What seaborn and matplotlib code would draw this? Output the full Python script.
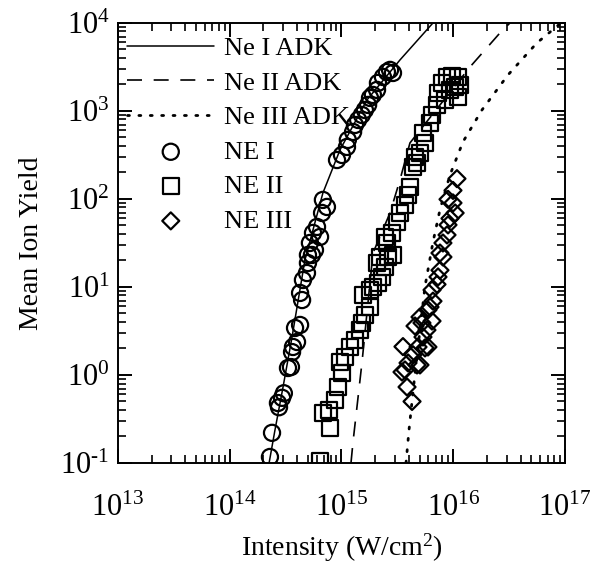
import matplotlib
matplotlib.use("Agg")
import matplotlib.pyplot as plt
import matplotlib.ticker as mticker
import seaborn as sns

# ---- ADK theory curves ----
adk1_x = [2.25e14, 2.54e14, 3.0e14, 3.61e14, 4.71e14, 6.82e14, 9.7e14, 1.69e15, 3.34e15, 6.59e15]
adk1_y = [0.1, 0.237, 0.731, 2.70, 20.3, 117, 361, 1333, 3800, 1.0e4]

adk2_x = [1.216e15, 1.268e15, 1.524e15, 1.914e15, 2.717e15, 3.334e15, 4.10e15, 1.413e16, 2.62e16, 3.22e16]
adk2_y = [0.1, 0.173, 1.37, 24.3, 69.3, 164, 433, 3160, 7700, 1.0e4]

adk3_x = [3.78e15, 4.02e15, 4.55e15, 5.58e15, 6.59e15, 7.60e15, 9.35e15, 1.222e16, 1.807e16, 3.09e16, 5.61e16, 9.0e16]
adk3_y = [0.1, 0.237, 1.05, 10.0, 32.4, 75.0, 187, 445, 1025, 2564, 5930, 9750]

ne1_x = [2.29e14, 2.39e14, 2.76e14, 2.94e14, 3.05e14, 2.70e14, 3.32e14, 3.53e14, 3.61e14, 3.68e14,
         4.0e14, 3.84e14, 4.26e14, 4.44e14, 4.26e14, 4.52e14, 4.91e14, 5.01e14, 5.44e14, 5.01e14,
         5.79e14, 5.22e14, 5.56e14, 6.43e14, 6.04e14, 6.70e14, 7.41e14, 6.82e14, 9.12e14, 1.01e15,
         1.12e15, 1.14e15, 1.27e15, 1.32e15, 1.41e15, 1.52e15, 1.62e15, 1.73e15, 1.80e15, 1.91e15,
         2.08e15, 2.12e15, 2.35e15, 2.55e15, 2.72e15, 2.89e15]
ne1_y = [0.117, 0.22, 0.43, 0.55, 0.62, 0.48, 1.2, 1.23, 1.82, 2.08,
         2.37, 3.42, 3.70, 7.1, 8.55, 12.0, 14.4, 18.7, 23.1, 23.1,
         26.3, 31.6, 41.1, 37.0, 48.1, 69.3, 81.1, 97.5, 277, 316,
         390, 468, 577, 693, 790, 901, 1025, 1170, 1406, 1520,
         1734, 2080, 2430, 2770, 2925, 2700]

ne2_x = [6.42e14, 6.83e14, 7.73e14, 7.89e14, 8.75e14, 9.31e14, 1.01e15, 9.70e14, 1.075e15, 1.19e15,
         1.32e15, 1.47e15, 1.53e15, 1.62e15, 1.80e15, 1.56e15, 1.80e15, 1.91e15, 2.12e15, 2.30e15,
         2.08e15, 2.45e15, 2.61e15, 2.89e15, 2.21e15, 2.55e15, 2.45e15, 2.83e15, 3.14e15, 3.34e15,
         3.70e15, 3.94e15, 4.10e15, 4.36e15, 4.55e15, 4.74e15, 5.04e15, 5.59e15, 5.36e15, 6.20e15,
         6.46e15, 7.16e15, 7.31e15, 7.93e15, 8.80e15, 9.75e15, 1.10e16, 1.04e16, 1.10e16, 8.44e15,
         9.35e15, 1.15e16]
ne2_y = [0.105, 0.37, 0.40, 0.25, 0.52, 0.73, 1.05, 1.41, 1.60, 2.08,
         2.50, 3.24, 3.90, 4.81, 5.92, 8.11, 9.24, 10.0, 11.1, 13.0,
         18.7, 16.9, 21.9, 23.1, 21.9, 31.6, 37.0, 41.1, 54.8, 69.3,
         85.5, 111, 137, 231, 300, 257, 333, 433, 562, 731,
         901, 1170, 1600, 2080, 2430, 2500, 2430, 1874, 1443, 1333,
         1734, 1975]

ne3_x = [4.28e15, 3.86e15, 3.70e15, 3.48e15, 3.94e15, 4.74e15, 5.04e15, 3.55e15, 4.36e15, 4.84e15,
         5.59e15, 5.94e15, 4.55e15, 5.25e15, 5.82e15, 6.46e15, 5.36e15, 5.04e15, 5.94e15, 6.20e15,
         6.59e15, 6.46e15, 7.16e15, 7.31e15, 7.61e15, 8.09e15, 7.61e15, 8.09e15, 8.80e15, 8.98e15,
         9.35e15, 9.95e15, 8.98e15, 1.04e16, 9.95e15, 1.08e16]
ne3_y = [0.50, 0.73, 1.14, 1.08, 1.37, 1.30, 1.30, 2.10, 1.70, 2.08,
         2.03, 2.08, 3.60, 3.90, 3.24, 4.10, 2.70, 4.56, 5.48, 5.92,
         6.90, 9.24, 10.7, 13.0, 15.5, 21.9, 24.3, 31.6, 39.0, 50.7,
         60.0, 90.1, 99.0, 69.3, 125, 170]

x_ticks = [1e13, 1e14, 1e15, 1e16, 1e17]
x_tick_labels = ["13", "14", "15", "16", "17"]
y_ticks = [1e-1, 1e0, 1e1, 1e2, 1e3, 1e4]
y_tick_labels = ["-1", "0", "1", "2", "3", "4"]

sns.set_theme(style="ticks")
plt.rcParams["font.family"] = ["Liberation Serif", "DejaVu Serif"]
plt.rcParams["mathtext.fontset"] = "custom"
plt.rcParams["mathtext.rm"] = "Liberation Serif"
plt.rcParams["mathtext.it"] = "Liberation Serif:italic"
plt.rcParams["mathtext.bf"] = "Liberation Serif:bold"
plt.rcParams["axes.unicode_minus"] = False
for key in ["text.color", "axes.labelcolor", "xtick.color", "ytick.color",
            "xtick.labelcolor", "ytick.labelcolor", "axes.edgecolor"]:
    plt.rcParams[key] = "black"

fig = plt.figure(figsize=(6.02, 5.73), dpi=100)
ax = fig.add_axes([0.196, 0.192, 0.7425, 0.768])
ax.set_xscale("log")
ax.set_yscale("log")

sns.lineplot(x=adk1_x, y=adk1_y, ax=ax, color="black", lw=1.1, linestyle="-", label="Ne I ADK")
sns.lineplot(x=adk2_x, y=adk2_y, ax=ax, color="black", lw=1.2, linestyle=(0, (9, 7)), label="Ne II ADK")
sns.lineplot(x=adk3_x, y=adk3_y, ax=ax, color="black", lw=2.0, linestyle=(0, (0.7, 3.4)),
             label="Ne III ADK")
ax.lines[-1].set_dash_capstyle("round")

sns.scatterplot(x=ne1_x, y=ne1_y, ax=ax, marker="o", s=135, facecolors="none",
                edgecolors="black", linewidths=1.6, label="NE I", zorder=3)
sns.scatterplot(x=ne2_x, y=ne2_y, ax=ax, marker="s", s=130, facecolors="none",
                edgecolors="black", linewidths=1.6, label="NE II", zorder=3)
sns.scatterplot(x=ne3_x, y=ne3_y, ax=ax, marker="D", s=75, facecolors="none",
                edgecolors="black", linewidths=1.6, label="NE III", zorder=3)

ax.set_xlim(1e13, 1e17)
ax.set_ylim(1e-1, 1e4)
ax.set_xticks(x_ticks)
ax.set_xticklabels([r"$10^{\text{%s}}$" % e for e in x_tick_labels])
ax.set_yticks(y_ticks)
ax.set_yticklabels([r"$10^{\text{%s}}$" % e for e in y_tick_labels])
ax.xaxis.set_minor_locator(mticker.LogLocator(base=10, subs=range(2, 10), numticks=20))
ax.yaxis.set_minor_locator(mticker.LogLocator(base=10, subs=range(2, 10), numticks=20))
ax.xaxis.set_minor_formatter(mticker.NullFormatter())
ax.yaxis.set_minor_formatter(mticker.NullFormatter())
ax.tick_params(which="both", direction="in", top=True, right=True, color="black",
               labelcolor="black")
ax.tick_params(which="major", length=10, width=1.4, labelsize=22)
ax.tick_params(which="minor", length=6, width=1.2)
ax.tick_params(axis="x", which="major", pad=22)
ax.tick_params(axis="y", which="major", pad=6)
for sp in ax.spines.values():
    sp.set_linewidth(1.4)
    sp.set_color("black")

ax.set_xlabel("Intensity (W/cm$^2$)", fontsize=20, labelpad=6, color="black")
ax.set_ylabel("Mean Ion Yield", fontsize=20, labelpad=12, color="black")

handles, labels = ax.get_legend_handles_labels()
leg = ax.legend(handles, labels, loc="upper left", frameon=False, fontsize=19,
                handlelength=3.3, handletextpad=0.38, labelspacing=0.42,
                borderpad=0.25, borderaxespad=0.1, bbox_to_anchor=(0.0, 0.99),
                labelcolor="black")

fig.savefig("out.png", dpi=100)
